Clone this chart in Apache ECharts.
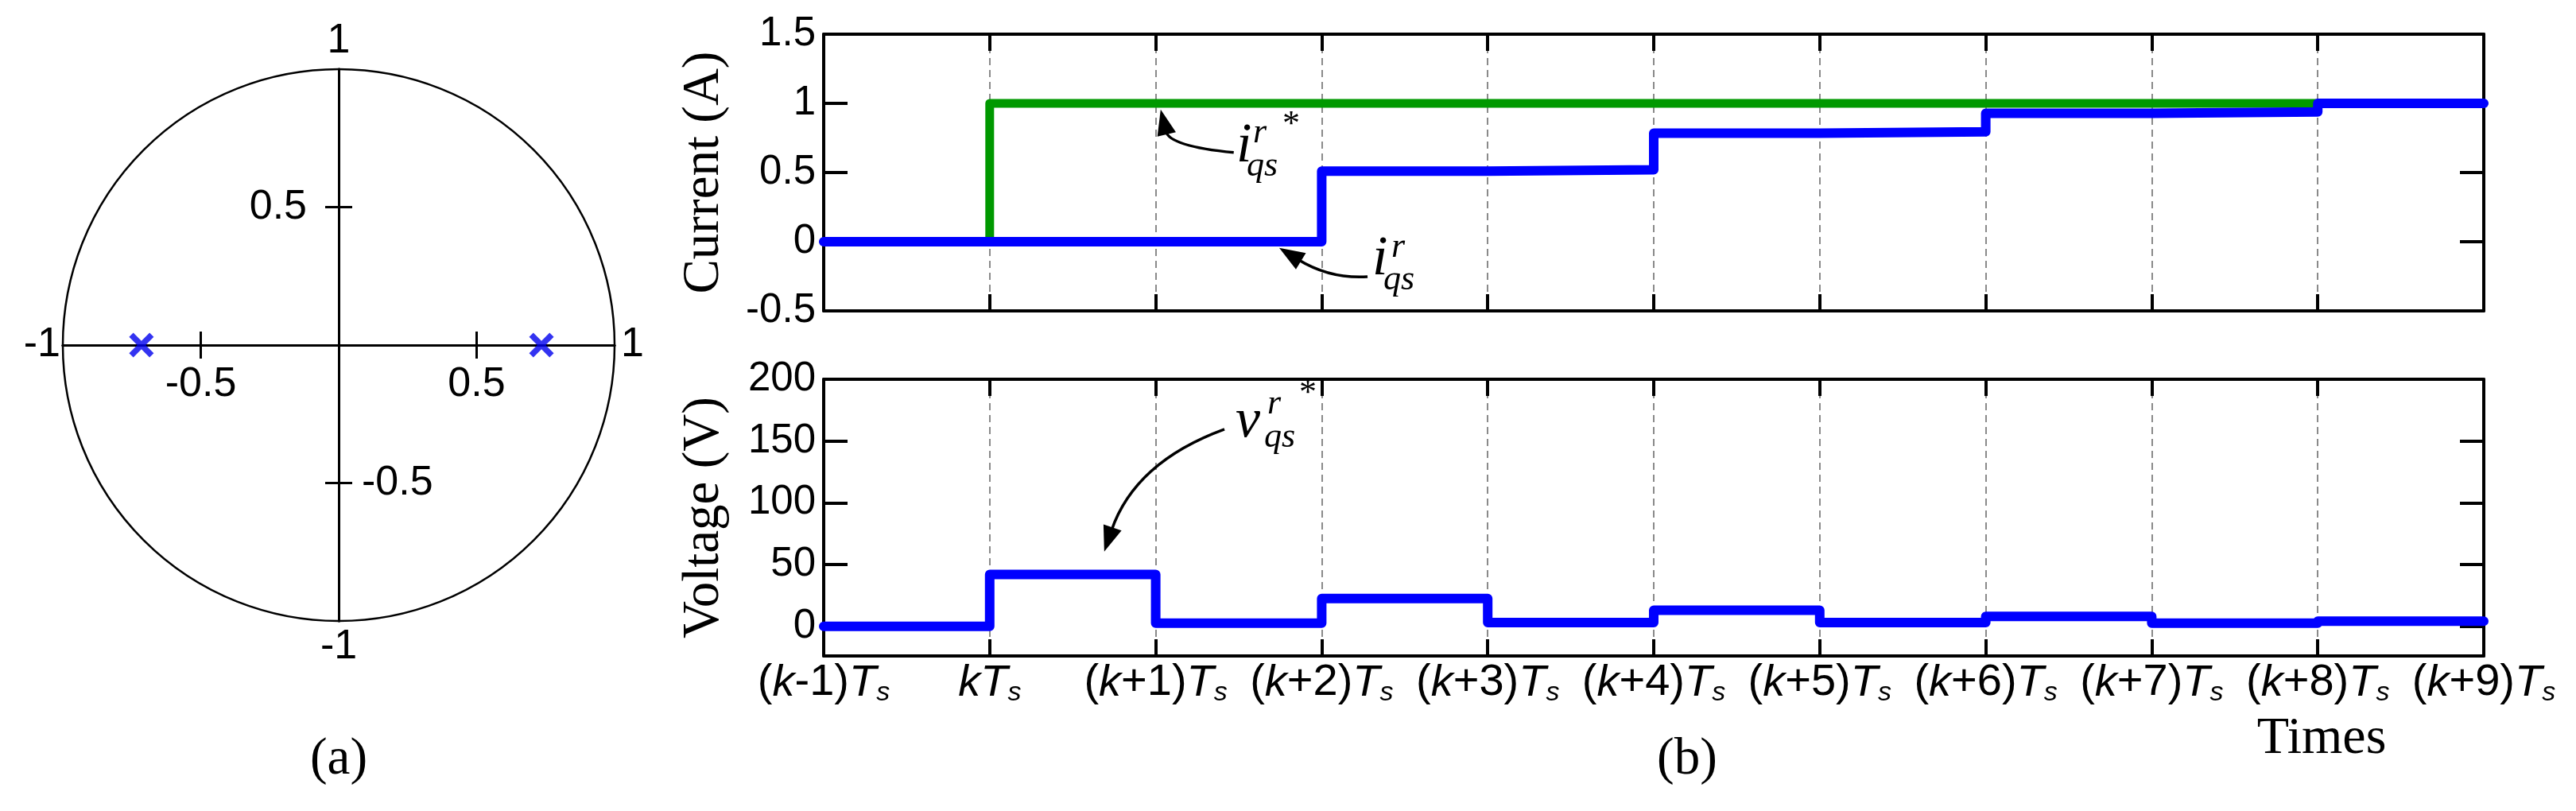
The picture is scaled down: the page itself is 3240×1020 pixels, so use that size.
<!DOCTYPE html>
<html><head><meta charset="utf-8">
<script src="https://cdn.jsdelivr.net/npm/echarts@6/dist/echarts.min.js"></script>
<style>html,body{margin:0;padding:0;background:#fff}#c{width:3240px;height:1020px}</style>
</head><body><div id="c"></div>
<script>
// ---------------- data ----------------
const poles = [[-0.715, 0], [0.735, 0]];
const poleTicks = [-0.5, 0.5];
const poleLabelsX = [-0.5, 0.5];
const poleLabelsYLeft = [0.5];
const poleLabelsYRight = [-0.5];
const timeSteps = [0, 1, 2, 3, 4, 5, 6, 7, 8, 9, 10];
const xTickLabels = ['(k-1)T_s', 'kT_s', '(k+1)T_s', '(k+2)T_s', '(k+3)T_s', '(k+4)T_s',
                     '(k+5)T_s', '(k+6)T_s', '(k+7)T_s', '(k+8)T_s', '(k+9)T_s'];
const currentRef = [0, 1, 1, 1, 1, 1, 1, 1, 1, 1, 1];
const currentActual = [0, 0, 0, 0.51, 0.52, 0.785, 0.795, 0.928, 0.938, 1.0, 1.0];
const voltageRef = [0, 42, 2.5, 22.5, 3, 13, 3, 8, 2.5, 4.2, 4.2];
const voltageTicks = [0, 50, 100, 150, 200];

// ---------------- helpers ----------------
const SANS = 'Liberation Sans', SERIF = 'Liberation Serif';
const pair = (xs, ys) => xs.map((x, i) => [x, ys[i]]);
function richLabel(s) {
  let out = '', buf = '';
  const flush = () => { if (buf) { out += '{n|' + buf + '}'; buf = ''; } };
  for (let i = 0; i < s.length; i++) {
    const c = s[i];
    if (c === '_') { flush(); out += '{s|' + s[i + 1] + '}'; i++; }
    else if (c === 'k' || c === 'T') { flush(); out += '{i|' + c + '}'; }
    else buf += c;
  }
  flush();
  return out;
}
const blackLine = (w) => ({ color: '#000', width: w });
const tickStyle = (len, inside, w, custom) => {
  const t = { show: true, inside: inside, length: len, lineStyle: blackLine(w) };
  if (custom) t.customValues = custom;
  return t;
};

const chart = echarts.init(document.getElementById('c'), null, { renderer: 'canvas' });

const nameStyleA = { fontFamily: SANS, fontSize: 52, color: '#000' };
const pzX = (pos, extra) => Object.assign({
  gridIndex: 0, type: 'value', min: -1, max: 1, position: pos,
  axisLine: { onZero: true, lineStyle: blackLine(3) },
  axisTick: tickStyle(17, false, 3, poleTicks),
  axisLabel: { show: false },
  splitLine: { show: false },
  nameMoveOverlap: false,
  nameTextStyle: nameStyleA
}, extra);

const bAxisX = (grid, pos, extra) => Object.assign({
  gridIndex: grid, type: 'value', min: 0, max: 10, interval: 1, position: pos,
  axisLine: { onZero: false, lineStyle: blackLine(4) },
  axisTick: tickStyle(21, true, 4),
  axisLabel: { show: false },
  splitLine: { show: false }
}, extra);

const dashed = { show: true, lineStyle: { type: [9, 6], color: '#8a8a8a', width: 2 } };

const option = {
  animation: false,
  backgroundColor: '#fff',
  grid: [
    { left: 79, top: 87, width: 694, height: 694, outerBoundsMode: 'none', containLabel: false },
    { left: 1036, top: 43, width: 2088, height: 348, outerBoundsMode: 'none', containLabel: false },
    { left: 1036, top: 477, width: 2088, height: 348, outerBoundsMode: 'none', containLabel: false }
  ],
  xAxis: [
    pzX('bottom', { name: '1', nameLocation: 'end', nameGap: 8 }),
    pzX('top', {
      axisLine: { onZero: true, onZeroAxisIndex: 0, lineStyle: blackLine(3) },
      name: '-1', nameLocation: 'start', nameGap: 3
    }),
    bAxisX(1, 'bottom', { splitLine: dashed }),
    bAxisX(1, 'top', {}),
    bAxisX(2, 'bottom', {
      splitLine: dashed,
      axisLabel: {
        show: true, margin: 4, fontFamily: SANS, fontSize: 56, color: '#000',
        formatter: (v) => richLabel(xTickLabels[Math.round(v)]),
        rich: {
          n: { fontFamily: SANS, fontSize: 56, color: '#000', lineHeight: 60 },
          i: { fontFamily: SANS, fontSize: 56, fontStyle: 'italic', color: '#000', lineHeight: 60 },
          s: { fontFamily: SANS, fontSize: 34, fontStyle: 'italic', color: '#000', verticalAlign: 'bottom' }
        }
      }
    }),
    bAxisX(2, 'top', {})
  ],
  yAxis: [
    {
      gridIndex: 0, type: 'value', min: -1, max: 1, position: 'left',
      axisLine: { onZero: true, lineStyle: blackLine(3) },
      axisTick: tickStyle(17, false, 3, poleTicks),
      axisLabel: { show: false },
      splitLine: { show: false },
      name: '1', nameLocation: 'end', nameGap: 9, nameMoveOverlap: false, nameTextStyle: nameStyleA
    },
    {
      gridIndex: 0, type: 'value', min: -1, max: 1, position: 'right',
      axisLine: { onZero: true, onZeroAxisIndex: 0, lineStyle: blackLine(3) },
      axisTick: tickStyle(17, false, 3, poleTicks),
      axisLabel: { show: false },
      splitLine: { show: false },
      name: '-1', nameLocation: 'start', nameGap: 7, nameMoveOverlap: false, nameTextStyle: nameStyleA
    },
    {
      gridIndex: 1, type: 'value', min: -0.5, max: 1.5, interval: 0.5, position: 'left',
      axisLine: { onZero: false, lineStyle: blackLine(4) },
      axisTick: tickStyle(30, true, 4),
      axisLabel: { margin: 10, fontFamily: SANS, fontSize: 51, color: '#000' },
      splitLine: { show: false },
      name: 'Current (A)', nameLocation: 'middle', nameGap: 118, nameMoveOverlap: false,
      nameTextStyle: { fontFamily: SERIF, fontSize: 65, color: '#000' }
    },
    {
      gridIndex: 1, type: 'value', min: -0.5, max: 1.5, interval: 0.5, position: 'right',
      axisLine: { onZero: false, lineStyle: blackLine(4) },
      axisTick: tickStyle(30, true, 4),
      axisLabel: { show: false },
      splitLine: { show: false }
    },
    {
      gridIndex: 2, type: 'value', min: -24, max: 200, position: 'left',
      axisLine: { onZero: false, lineStyle: blackLine(4) },
      axisTick: tickStyle(30, true, 4, voltageTicks),
      axisLabel: { customValues: voltageTicks, margin: 10, fontFamily: SANS, fontSize: 51, color: '#000' },
      splitLine: { show: false },
      name: 'Voltage (V)', nameLocation: 'middle', nameGap: 118, nameMoveOverlap: false,
      nameTextStyle: { fontFamily: SERIF, fontSize: 65, color: '#000' }
    },
    {
      gridIndex: 2, type: 'value', min: -24, max: 200, position: 'right',
      axisLine: { onZero: false, lineStyle: blackLine(4) },
      axisTick: tickStyle(30, true, 4, voltageTicks),
      axisLabel: { show: false },
      splitLine: { show: false }
    }
  ],
  series: [
    {
      type: 'scatter', xAxisIndex: 0, yAxisIndex: 0, data: poles,
      symbol: 'path://M0 3.4L3.4 0L10 6.6L16.6 0L20 3.4L13.4 10L20 16.6L16.6 20L10 13.4L3.4 20L0 16.6L6.6 10Z',
      symbolSize: 31,
      itemStyle: { color: '#0000ee', borderWidth: 0 }, z: 5
    },
    {
      type: 'line', xAxisIndex: 2, yAxisIndex: 2, data: pair(timeSteps, currentRef),
      step: 'end', symbol: 'none', clip: false,
      lineStyle: { color: '#009900', width: 11, cap: 'round', join: 'round' }, z: 3
    },
    {
      type: 'line', xAxisIndex: 2, yAxisIndex: 2, data: pair(timeSteps, currentActual),
      step: 'end', symbol: 'none', clip: false,
      lineStyle: { color: '#0000ff', width: 12, cap: 'round', join: 'round' }, z: 4
    },
    {
      type: 'line', xAxisIndex: 4, yAxisIndex: 4, data: pair(timeSteps, voltageRef),
      step: 'end', symbol: 'none', clip: false,
      lineStyle: { color: '#0000ff', width: 12, cap: 'round', join: 'round' }, z: 4
    }
  ]
};
chart.setOption(option);

const graphics = [];

// ---------------- pole-zero map tick labels (placed through the axis scale) ----------------
const pz = (pt) => chart.convertToPixel({ xAxisIndex: 0, yAxisIndex: 0 }, pt);
const sansText = (x, y, str, align, valign) => ({ type: 'text', x: x, y: y, z: 10,
  style: { text: String(str), fontFamily: SANS, fontSize: 52, fill: '#000', align: align, verticalAlign: valign } });
poleLabelsX.forEach(v => { const p = pz([v, 0]); graphics.push(sansText(p[0], p[1] + 24, v, 'center', 'top')); });
poleLabelsYLeft.forEach(v => { const p = pz([0, v]); graphics.push(sansText(p[0] - 40, p[1], v, 'right', 'middle')); });
poleLabelsYRight.forEach(v => { const p = pz([0, v]); graphics.push(sansText(p[0] + 29, p[1], v, 'left', 'middle')); });

// unit circle, sized from the axis scale
const c0 = pz([0, 0]), c1 = pz([1, 0]);
graphics.push({ type: 'circle', z: 1, shape: { cx: c0[0], cy: c0[1], r: c1[0] - c0[0] },
  style: { fill: 'none', stroke: '#000', lineWidth: 2.5 } });

// ---------------- annotations (positioned through the axes) ----------------
const annotations = [
  { axes: [2, 2], tip: [2.03, 0.955], ctrl: [2.083, 0.69], tail: [2.47, 0.645], anchor: [2.486, 0.55],
    main: 'i', sup: 'r', sub: 'qs', star: true, off: { sup: [21, -26], sub: [13, 16], star: [58, -36] } },
  { axes: [2, 2], tip: [2.744, -0.045], ctrl: [3.05, -0.27], tail: [3.276, -0.253], anchor: [3.305, -0.264],
    main: 'i', sup: 'r', sub: 'qs', star: false, off: { sup: [24, -24], sub: [14, 17] } },
  { axes: [4, 4], tip: [1.69, 60.5], ctrl: [1.875, 133], tail: [2.414, 159.5], anchor: [2.481, 150.5],
    main: 'v', sup: 'r', sub: 'qs', star: true, off: { sup: [40, -31], sub: [36, 11], star: [80, -44] } }
];

const txt = (x, base, str, size, italic) => ({
  type: 'text', x: x, y: base - 0.34 * size, z: 10,
  style: { text: str, fontFamily: SERIF, fontSize: size, fontStyle: italic ? 'italic' : 'normal',
           fill: '#000', align: 'left', verticalAlign: 'middle' }
});

annotations.forEach(a => {
  const f = { xAxisIndex: a.axes[0], yAxisIndex: a.axes[1] };
  const tip = chart.convertToPixel(f, a.tip);
  const ctrl = chart.convertToPixel(f, a.ctrl);
  const tail = chart.convertToPixel(f, a.tail);
  const anc = chart.convertToPixel(f, a.anchor);
  const dx = tip[0] - ctrl[0], dy = tip[1] - ctrl[1];
  const L = Math.hypot(dx, dy), ux = dx / L, uy = dy / L;
  const len = 32, hw = 12;
  const base = [tip[0] - ux * len, tip[1] - uy * len];
  const p1 = [base[0] - uy * hw, base[1] + ux * hw];
  const p2 = [base[0] + uy * hw, base[1] - ux * hw];
  const end = [tip[0] - ux * (len - 4), tip[1] - uy * (len - 4)];
  graphics.push({ type: 'bezierCurve', z: 10,
    shape: { x1: tail[0], y1: tail[1], x2: end[0], y2: end[1], cpx1: ctrl[0], cpy1: ctrl[1] },
    style: { stroke: '#000', lineWidth: 3.5, fill: 'none' } });
  graphics.push({ type: 'polygon', z: 10, shape: { points: [tip, p1, p2] }, style: { fill: '#000' } });
  graphics.push(txt(anc[0], anc[1], a.main, 70, true));
  graphics.push(txt(anc[0] + a.off.sup[0], anc[1] + a.off.sup[1], a.sup, 44, true));
  graphics.push(txt(anc[0] + a.off.sub[0], anc[1] + a.off.sub[1], a.sub, 44, true));
  if (a.star) graphics.push(txt(anc[0] + a.off.star[0], anc[1] + a.off.star[1], '*', 44, false));
});

// captions
const cap = (x, y, str, size) => ({ type: 'text', x: x, y: y, z: 10,
  style: { text: str, fontFamily: SERIF, fontSize: size, fill: '#000', align: 'center', verticalAlign: 'middle' } });
graphics.push(cap(c0[0], 956, '(a)', 65));
graphics.push(cap(2122, 956, '(b)', 65));
graphics.push(cap(2920, 930, 'Times', 66));

chart.setOption({ graphic: graphics });
</script>
</body></html>
